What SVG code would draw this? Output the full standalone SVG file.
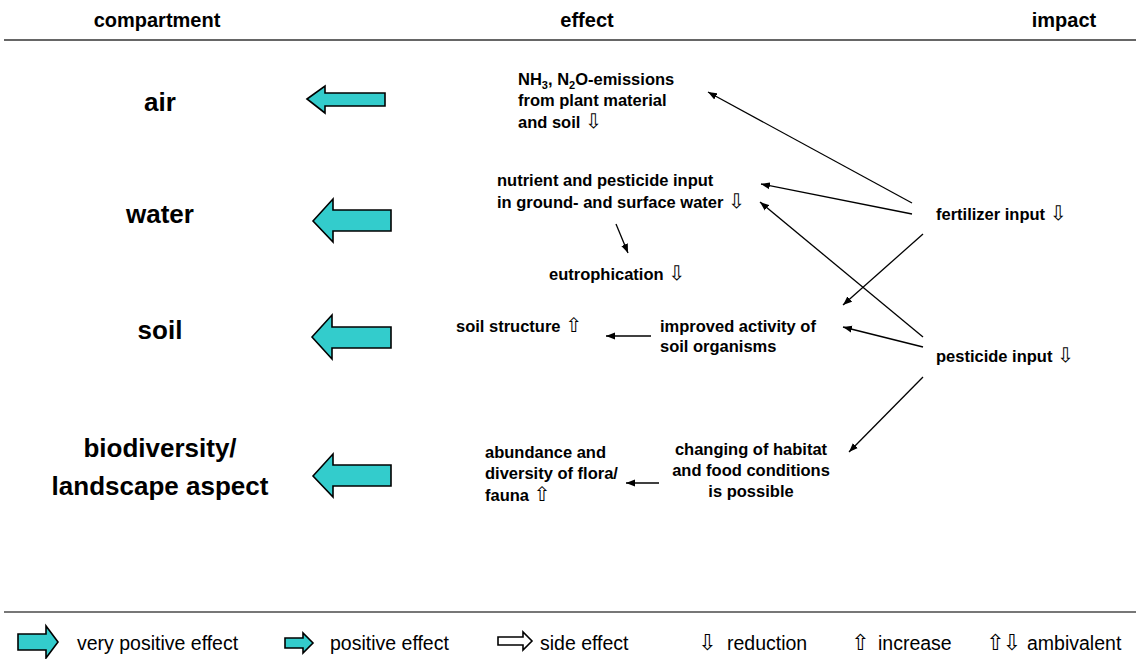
<svg xmlns="http://www.w3.org/2000/svg" width="1136" height="659" viewBox="0 0 1136 659">
<defs>
<style>
text{font-family:"Liberation Sans",Arial,sans-serif;fill:#000}
.hd{font-size:20px;font-weight:bold}
.cp{font-size:26px;font-weight:bold;text-anchor:middle}
.ef{font-size:16.5px;font-weight:bold}
.lg{font-size:19.5px}
.sym{font-family:"DejaVu Sans",sans-serif;font-weight:normal;font-size:20px}
.lsym{font-family:"DejaVu Sans",sans-serif;font-size:22px}
.big{fill:#33CCCC;stroke:#000;stroke-width:1.6;stroke-linejoin:miter}
.conn line{stroke:#000;stroke-width:1.3;marker-end:url(#ah)}
</style>
<marker id="ah" markerUnits="userSpaceOnUse" markerWidth="10" markerHeight="8" refX="9" refY="4" orient="auto">
<path d="M0,0.5 L9,4 L0,7.5 Z" fill="#000"/>
</marker>
</defs>
<rect width="1136" height="659" fill="#fff"/>

<g id="header">
<text class="hd" x="157" y="27" text-anchor="middle">compartment</text>
<text class="hd" x="587" y="27" text-anchor="middle">effect</text>
<text class="hd" x="1064" y="27" text-anchor="middle">impact</text>
<line x1="4" y1="40" x2="1136" y2="40" stroke="#333" stroke-width="1.6"/>
</g>

<g id="air">
<text class="cp" x="160" y="111">air</text>
<polygon class="big" points="307,99 325,86 325,93 385,93 385,106 325,106 325,113"/>
</g>
<g id="water">
<text class="cp" x="160" y="223">water</text>
<polygon class="big" points="313,221 333,199 333,210 391,210 391,231 333,231 333,242"/>
</g>
<g id="soil">
<text class="cp" x="160" y="339">soil</text>
<polygon class="big" points="312,337 332,315 332,327 391,327 391,348 332,348 332,359"/>
</g>
<g id="biodiversity">
<text class="cp" x="160" y="457">biodiversity/</text>
<text class="cp" x="160" y="495">landscape aspect</text>
<polygon class="big" points="313,476 333,454 333,465 391,465 391,486 333,486 333,497"/>
</g>

<g id="emissions">
<text class="ef" x="518" y="85">NH<tspan dy="4" font-size="11">3</tspan><tspan dy="-4">, N</tspan><tspan dy="4" font-size="11">2</tspan><tspan dy="-4">O-emissions</tspan></text>
<text class="ef" x="518" y="106">from plant material</text>
<text class="ef" x="518" y="128">and soil <tspan class="sym">⇩</tspan></text>
</g>
<g id="nutrient">
<text class="ef" x="497" y="186">nutrient and pesticide input</text>
<text class="ef" x="497" y="208">in ground- and surface water <tspan class="sym">⇩</tspan></text>
</g>
<g id="eutrophication">
<text class="ef" x="549" y="280">eutrophication <tspan class="sym">⇩</tspan></text>
</g>
<g id="soilstructure">
<text class="ef" x="456" y="332">soil structure <tspan class="sym">⇧</tspan></text>
</g>
<g id="improved">
<text class="ef" x="660" y="332">improved activity of</text>
<text class="ef" x="660" y="352">soil organisms</text>
</g>
<g id="abundance">
<text class="ef" x="485" y="458">abundance and</text>
<text class="ef" x="485" y="479">diversity of flora/</text>
<text class="ef" x="485" y="501">fauna <tspan class="sym">⇧</tspan></text>
</g>
<g id="changing">
<text class="ef" x="751" y="455" text-anchor="middle">changing of habitat</text>
<text class="ef" x="751" y="476" text-anchor="middle">and food conditions</text>
<text class="ef" x="751" y="497" text-anchor="middle">is possible</text>
</g>
<g id="fertilizer">
<text class="ef" x="936" y="220">fertilizer input <tspan class="sym">⇩</tspan></text>
</g>
<g id="pesticide">
<text class="ef" x="936" y="362">pesticide input <tspan class="sym">⇩</tspan></text>
</g>

<g id="connectors" class="conn">
<line x1="912" y1="203" x2="708" y2="92"/>
<line x1="912" y1="214" x2="761" y2="184"/>
<line x1="923" y1="234" x2="843" y2="305"/>
<line x1="923" y1="337" x2="760" y2="202"/>
<line x1="923" y1="347" x2="843" y2="327"/>
<line x1="923" y1="377" x2="849" y2="452"/>
<line x1="616" y1="224" x2="628" y2="253"/>
<line x1="651" y1="336" x2="606" y2="336"/>
<line x1="659" y1="483" x2="626" y2="483"/>
</g>

<g id="legend">
<line x1="4" y1="612" x2="1136" y2="612" stroke="#777" stroke-width="2"/>
<polygon class="big" points="18,634 46,634 46,626 58,642 46,658 46,650 18,650"/>
<text class="lg" x="77" y="650">very positive effect</text>
<polygon class="big" points="285,638 303,638 303,633 313,643 303,653 303,648 285,648"/>
<text class="lg" x="330" y="650">positive effect</text>
<polygon points="498,637 523,637 523,632 532,641 523,650 523,645 498,645" fill="#fff" stroke="#000" stroke-width="1.6"/>
<text class="lg" x="540" y="650">side effect</text>
<text class="lsym" x="698" y="650">⇩</text>
<text class="lg" x="727" y="650">reduction</text>
<text class="lsym" x="851" y="650">⇧</text>
<text class="lg" x="878" y="650">increase</text>
<text class="lsym" x="986" y="650" letter-spacing="-2">⇧⇩</text>
<text class="lg" x="1027" y="650">ambivalent</text>
</g>
</svg>
